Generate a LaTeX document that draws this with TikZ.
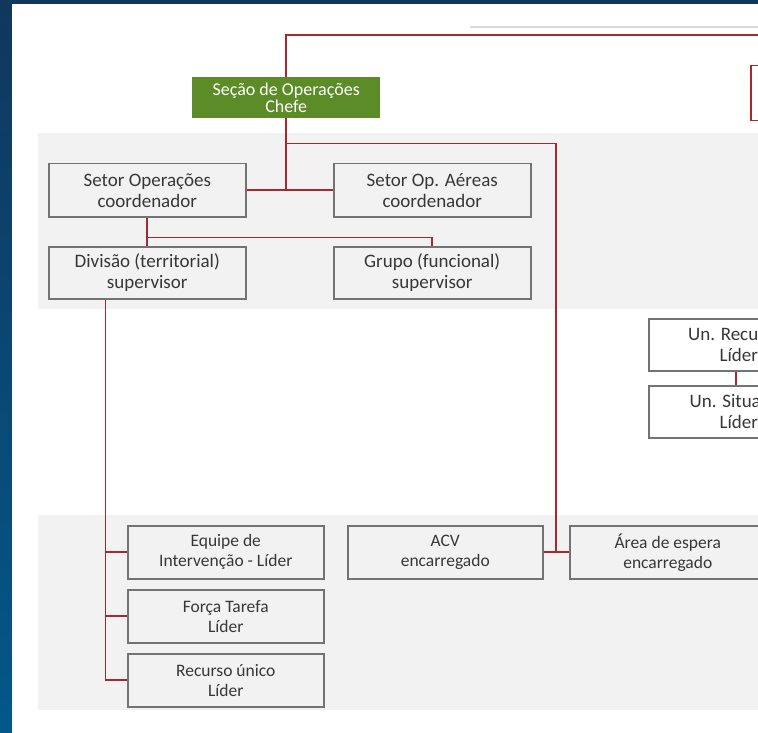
\documentclass[tikz,border=0pt]{standalone}
\usepackage{fontspec}
\setmainfont{Carlito}
\usetikzlibrary{calc}

\definecolor{navytop}{RGB}{17,55,92}
\definecolor{navybot}{RGB}{3,88,138}
\definecolor{bandgray}{RGB}{242,242,242}
\definecolor{boxline}{RGB}{115,115,115}
\definecolor{linkred}{RGB}{168,40,45}
\definecolor{chefegreen}{RGB}{92,140,40}
\definecolor{txtgray}{RGB}{55,55,55}

\tikzset{
  cargo/.style={draw=boxline, fill=bandgray, line width=1.5pt, anchor=north west,
    minimum width=197, minimum height=53, inner sep=0pt, align=center,
    text=txtgray, font=\fontsize{19}{21}\selectfont},
  cargob/.style={cargo, minimum width=196, font=\fontsize{17.5}{20}\selectfont},
  unidade/.style={cargo, fill=white, minimum width=180, minimum height=52},
  link/.style={draw=linkred, line width=1.6pt}
}

\begin{document}
\begin{tikzpicture}[x=1pt,y=-1pt]
  \useasboundingbox (0,0) rectangle (758,733);
  \clip (0,0) rectangle (758,733);

  % background and bands
  \shade[top color=navytop, bottom color=navybot] (0,0) rectangle (758,733);
  \fill[white] (12,4) rectangle (758,733);
  \fill[bandgray] (38,133) rectangle (758,309);
  \fill[bandgray] (38,515) rectangle (758,710);
  \draw[line width=2pt, black!15] (470,27) -- (758,27);

  % chefe
  \node[fill=chefegreen, anchor=north west, minimum width=188, minimum height=41,
    inner sep=0pt, align=center, text=white, font=\fontsize{18}{13.5}\selectfont]
    (chefe) at (192,77) {Seção de Operações\\Chefe};
  \node[draw=linkred, fill=white, line width=1.5pt, anchor=north west,
    minimum width=60, minimum height=55] (staff) at (750,65) {};
  \coordinate (topR) at (760,35);

  % setores, divisoes, grupos
  \node[cargo] (setorop) at (48,163) {Setor Operações\\coordenador};
  \node[cargo] (setoraer) at (333,163) {Setor Op. Aéreas\\coordenador};
  \node[cargo, minimum height=52] (divisao) at (48,246) {Divisão (territorial)\\supervisor};
  \node[cargo, minimum height=52] (grupo) at (333,246) {Grupo (funcional)\\supervisor};

  % unidades
  \node[unidade] (unrec) at (648,318) {Un. Recursos\\Líder};
  \node[unidade] (unsit) at (648,385) {Un. Situação\\Líder};

  % recursos
  \node[cargob] (equipe) at (127,525) {Equipe de\\Intervenção - Líder};
  \node[cargob] (forca) at (127,589) {Força Tarefa\\Líder};
  \node[cargob] (recurso) at (127,653) {Recurso único\\Líder};
  \node[cargob, minimum width=195] (acv) at (347,525) {ACV\\encarregado};
  \node[cargob] (area) at (569,525) {Área de espera\\encarregado};

  % connectors
  \draw[link] (chefe.north) |- (topR);
  \draw[link] (chefe.south) -- (chefe.south |- setorop.east);
  \draw[link] (setorop.east) -- (setoraer.west);
  \coordinate (espera) at ($(acv.east)!0.5!(area.west)$);
  \draw[link] ($(chefe.south)+(0,25)$) -| (espera);
  \draw[link] (acv.east) -- (area.west);
  \draw[link] (setorop.south) -- (divisao.north);
  \draw[link] ($(setorop.south)+(0,20)$) -| (grupo.north);
  \coordinate (dv) at ($(divisao.south west)!0.29!(divisao.south east)$);
  \draw[link] (dv) |- (recurso.west);
  \draw[link] (dv |- equipe.west) -- (equipe.west);
  \draw[link] (dv |- forca.west) -- (forca.west);
  \draw[link] ([xshift=-3pt]unrec.south) -- ([xshift=-3pt]unsit.north);
\end{tikzpicture}
\end{document}
